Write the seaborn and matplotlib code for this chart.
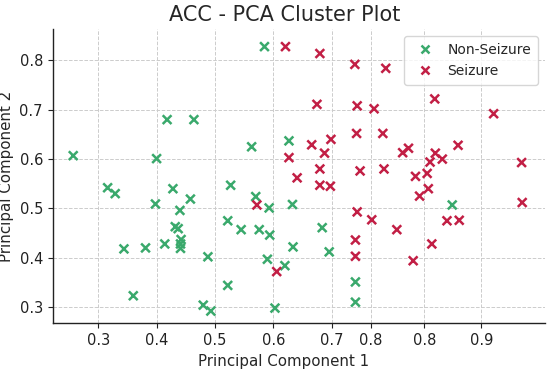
import matplotlib
matplotlib.use("Agg")
import matplotlib.pyplot as plt
import seaborn as sns
import pandas as pd

# PCA coordinates
non_seizure_pc1 = [0.257, 0.400, 0.418, 0.464, 0.316, 0.329, 0.428, 0.458, 0.398, 0.440,
                   0.432, 0.437, 0.442, 0.441, 0.441, 0.414, 0.344, 0.381, 0.488, 0.360,
                   0.480, 0.493, 0.585, 0.563, 0.627, 0.527, 0.570, 0.593, 0.633, 0.522,
                   0.545, 0.576, 0.594, 0.684, 0.634, 0.696, 0.590, 0.620, 0.522, 0.741,
                   0.741, 0.603, 0.907]
non_seizure_pc2 = [0.607, 0.601, 0.680, 0.680, 0.542, 0.530, 0.540, 0.519, 0.509, 0.496,
                   0.463, 0.459, 0.437, 0.428, 0.419, 0.428, 0.418, 0.420, 0.402, 0.323,
                   0.304, 0.292, 0.828, 0.625, 0.637, 0.547, 0.524, 0.501, 0.508, 0.475,
                   0.457, 0.457, 0.446, 0.461, 0.422, 0.412, 0.397, 0.384, 0.344, 0.351,
                   0.310, 0.298, 0.507]

seizure_pc1 = [0.621, 0.680, 0.740, 0.793, 0.675, 0.744, 0.773, 0.699, 0.743, 0.788,
               0.666, 0.688, 0.627, 0.680, 0.749, 0.790, 0.641, 0.680, 0.698, 0.572,
               0.744, 0.769, 0.741, 0.741, 0.606, 0.877, 0.978, 0.917, 0.822, 0.832,
               0.878, 0.869, 0.890, 1.026, 0.844, 0.864, 0.866, 0.851, 1.027, 0.898,
               0.919, 0.812, 0.872, 0.840]
seizure_pc2 = [0.828, 0.814, 0.792, 0.784, 0.711, 0.708, 0.702, 0.640, 0.652, 0.652,
               0.629, 0.612, 0.603, 0.580, 0.576, 0.580, 0.562, 0.547, 0.545, 0.507,
               0.493, 0.477, 0.436, 0.403, 0.372, 0.722, 0.692, 0.628, 0.613, 0.622,
               0.612, 0.594, 0.600, 0.593, 0.565, 0.571, 0.540, 0.525, 0.512, 0.475,
               0.476, 0.457, 0.428, 0.394]

# tick positions / labels as they appear on the reference x axis
x_tick_pos = [0.3, 0.4, 0.5, 0.6, 0.7, 0.767, 0.859, 0.957]
x_tick_labels = ["0.3", "0.4", "0.5", "0.6", "0.7", "0.8", "0.8", "0.9"]

df = pd.DataFrame({
    "PC1": non_seizure_pc1 + seizure_pc1,
    "PC2": non_seizure_pc2 + seizure_pc2,
    "Label": ["Non-Seizure"] * len(non_seizure_pc1) + ["Seizure"] * len(seizure_pc1),
})

sns.set_theme(style="ticks")
plt.rcParams["font.family"] = ["DejaVu Sans"]

fig = plt.figure(figsize=(5.5, 3.7), dpi=100)
ax = fig.add_axes([0.0958, 0.126, 0.895, 0.796])

sns.scatterplot(
    data=df, x="PC1", y="PC2", hue="Label",
    palette={"Non-Seizure": "#3aa96c", "Seizure": "#c21f45"},
    marker="x", s=40, linewidth=1.8, ax=ax,
)

ax.set_xlim(0.2218, 1.066)
ax.set_ylim(0.267, 0.864)
ax.set_xticks(x_tick_pos)
ax.set_xticklabels(x_tick_labels)
ax.set_yticks([0.3, 0.4, 0.5, 0.6, 0.7, 0.8])
ax.set_yticklabels(["0.3", "0.4", "0.5", "0.6", "0.7", "0.8"])
ax.tick_params(labelsize=10.5, length=3.5, width=0.8, colors="#222222")
ax.grid(True, linestyle="--", color="#cccccc", linewidth=0.7)
ax.set_axisbelow(True)
sns.despine(ax=ax)
for sp in ("left", "bottom"):
    ax.spines[sp].set_color("#222222")
    ax.spines[sp].set_linewidth(1.0)

ax.set_xlabel("Principal Component 1", fontsize=10.8, x=0.47)
ax.set_ylabel("Principal Component 2", fontsize=10.8)
ax.set_title("ACC - PCA Cluster Plot", fontsize=15, pad=6, x=0.472)
ax.legend(title=None, loc="upper right", fontsize=10, frameon=True,
          handletextpad=0.6, borderpad=0.5)

fig.savefig("out.png", dpi=100)
plt.close(fig)
